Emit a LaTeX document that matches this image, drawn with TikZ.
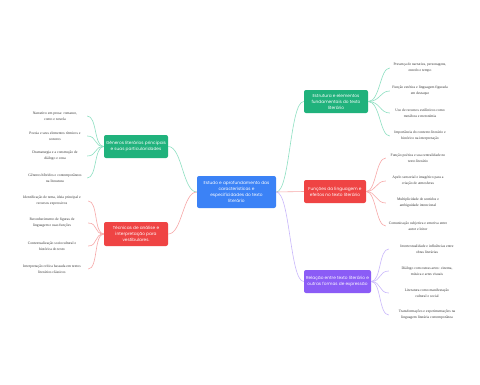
\documentclass[tikz,border=0pt]{standalone}
\usepackage{fontspec}
\setmainfont{Liberation Serif}
\newfontfamily\nodefont{Poppins}
\definecolor{cblue}{HTML}{3B82F6}
\definecolor{cgreen}{HTML}{20B27C}
\definecolor{cred}{HTML}{EF4444}
\definecolor{cpurple}{HTML}{8B5CF6}
\definecolor{lgreen}{HTML}{8EE0C2}
\definecolor{lred}{HTML}{F7A8A8}
\definecolor{lpurple}{HTML}{C9B8FB}
\definecolor{leaftext}{HTML}{3A3A3A}
\begin{document}
\begin{tikzpicture}[x=1pt,y=-1pt,
  box/.style={rounded corners=2pt, text=white, align=center, inner sep=1pt,
    minimum height=23pt, font=\nodefont\fontsize{4.3}{6}\selectfont},
  leaf/.style={align=center, inner sep=0pt, text=leaftext,
    font=\fontsize{3.7}{6}\selectfont},
  link/.style={line width=0.6pt},
]
\useasboundingbox[fill=white] (0,0) rectangle (480,384);

% center
\node[box, fill=cblue, minimum width=79pt, minimum height=32pt] (c) at (236.5,192)
  {Estudo e aprofundamento das\\características e\\especificidades do texto\\literário};

% branches
\node[box, fill=cgreen, minimum width=64pt] (rg) at (336,101.5)
  {Estrutura e elementos\\fundamentais do texto\\literário};
\node[box, fill=cred, minimum width=62pt] (rr) at (335,191.5)
  {Funções da linguagem e\\efeitos no texto literário};
\node[box, fill=cpurple, minimum width=67pt] (rp) at (337.5,281.5)
  {Relação entre texto literário e\\outras formas de expressão};
\node[box, fill=cgreen, minimum width=64pt] (lg) at (136,146.5)
  {Gêneros literários principais\\e suas particularidades};
\node[box, fill=cred, minimum width=64pt, minimum height=24pt] (lr) at (136,234)
  {Técnicas de análise e\\interpretação para\\vestibulares.};

% center links
\draw[link, lgreen] (c.east) .. controls +(14,0) and +(-14,0) .. (rg.west);
\draw[link, lred] (c.east) .. controls +(14,0) and +(-14,0) .. (rr.west);
\draw[link, lpurple] (c.east) .. controls +(14,0) and +(-14,0) .. (rp.west);
\draw[link, lgreen] (c.west) .. controls +(-14,0) and +(14,0) .. (lg.east);
\draw[link, lred] (c.west) .. controls +(-14,0) and +(14,0) .. (lr.east);

% right green leaves
\begin{scope}[every node/.style={leaf, minimum width=60pt}]
\node (g1) at (420,68) {Presença de narrativa, personagens,\\enredo e tempo};
\node (g2) at (420,91) {Função estética e linguagem figurada\\em destaque};
\node (g3) at (420,113) {Uso de recursos estilísticos como\\metáfora e metonímia};
\node (g4) at (420,136) {Importância do contexto literário e\\histórico na interpretação};
\end{scope}
\foreach \n in {g1,g2,g3,g4}
  \draw[link, lgreen] (rg.east) .. controls +(12,0) and +(-10,0) .. (\n.west);

% right red leaves
\begin{scope}[every node/.style={leaf, minimum width=64pt}]
\node (r1) at (418,158) {Função poética e sua centralidade no\\texto literário};
\node (r2) at (418,181) {Apelo sensorial e imagético para a\\criação de atmosferas};
\node (r3) at (418,203) {Multiplicidade de sentidos e\\ambiguidade intencional};
\node (r4) at (418,226) {Comunicação subjetiva e emotiva entre\\autor e leitor};
\end{scope}
\foreach \n in {r1,r2,r3,r4}
  \draw[link, lred] (rr.east) .. controls +(10,0) and +(-10,0) .. (\n.west);

% right purple leaves
\begin{scope}[every node/.style={leaf, minimum width=76pt}]
\node (p1) at (427,249) {Intertextualidade e influências entre\\obras literárias};
\node (p2) at (427,271) {Diálogo com outras artes: cinema,\\música e artes visuais};
\node (p3) at (427,293) {Literatura como manifestação\\cultural e social};
\node (p4) at (427,315) {Transformações e experimentações na\\linguagem literária contemporânea};
\end{scope}
\foreach \n in {p1,p2,p3,p4}
  \draw[link, lpurple] (rp.east) .. controls +(10,0) and +(-10,0) .. (\n.west);

% left green leaves
\begin{scope}[every node/.style={leaf, minimum width=64pt}]
\node (lg1) at (55,116) {Narrativo em prosa: romance,\\conto e novela};
\node (lg2) at (55,136) {Poesia e seus elementos rítmicos e\\sonoros};
\node (lg3) at (55,156) {Dramaturgia e a construção de\\diálogo e cena};
\node (lg4) at (55,178) {Gêneros híbridos e contemporâneos\\na literatura};
\end{scope}
\foreach \n in {lg1,lg2,lg3,lg4}
  \draw[link, lgreen] (lg.west) .. controls +(-10,0) and +(10,0) .. (\n.east);

% left red leaves
\begin{scope}[every node/.style={leaf, minimum width=72pt}]
\node (lr1) at (52,201) {Identificação de tema, ideia principal e\\recursos expressivos};
\node (lr2) at (52,223) {Reconhecimento de figuras de\\linguagem e suas funções};
\node (lr3) at (52,246) {Contextualização sociocultural e\\histórica do texto};
\node (lr4) at (52,269) {Interpretação crítica baseada em textos\\literários clássicos};
\end{scope}
\foreach \n in {lr1,lr2,lr3,lr4}
  \draw[link, lred] (lr.west) .. controls +(-10,0) and +(10,0) .. (\n.east);
\end{tikzpicture}
\end{document}
